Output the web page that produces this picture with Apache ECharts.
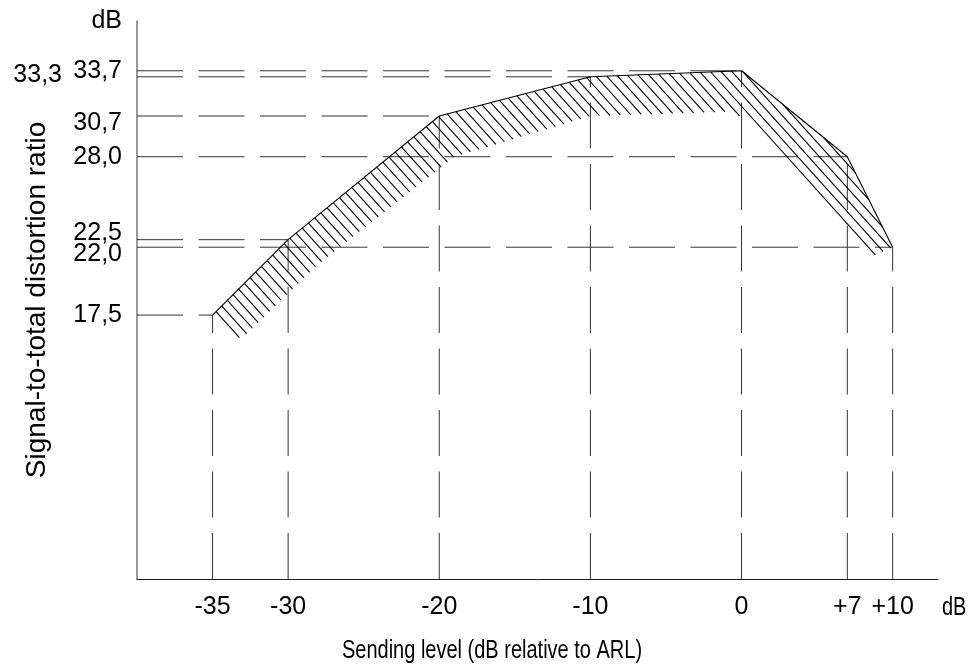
<!DOCTYPE html>
<html><head><meta charset="utf-8">
<script src="https://cdn.jsdelivr.net/npm/echarts@6/dist/echarts.min.js"></script>
<style>html,body{margin:0;padding:0;background:#fff}#c{width:975px;height:666px}</style>
</head><body><div id="c"></div>
<script>
// Limit curve: sending level (dB rel. ARL) -> signal-to-total distortion ratio (dB)
const levels = [-35, -30, -20, -10, 0, 7, 10];
const ratios = [17.5, 22.5, 30.7, 33.3, 33.7, 28.0, 22.0];
// Lower edge of the hatched band, right to left
const hatchLowerX = [8.4, -0.4, -10, -19, -28.1, -33.1];
const hatchLowerY = [21.3, 31.0, 30.7, 28.0, 20.8, 15.9];
// Tick values and labels
const xTickValues = [-35, -30, -20, -10, 0, 7, 10];
const xTickLabels = ['-35', '-30', '-20', '-10', '0', '+7', '+10'];
const yTickValues = [33.7, 33.3, 30.7, 28.0, 22.5, 22.0, 17.5];
const yTickLabels = ['33,7', '33,3', '30,7', '28,0', '22,5', '22,0', '17,5'];
const xTitle = 'Sending level (dB relative to ARL)';
const yTitle = 'Signal-to-total distortion ratio';
const unitLabel = 'dB';

const X_MIN = -40, X_MAX = 13, Y_MIN = 0, Y_MAX = 37;
const FONT = 'Liberation Sans, Arial, sans-serif';
const TICK_FS = 25;
const guideDash = [46, 15.5];
const hatchAngle = 48 * Math.PI / 180;
const hatchGap = 8.0;
// per-label style key (rich) for y labels
const yLabelStyle = ['n', 'farLeft', 'down', 'n', 'up', 'down', 'n'];

const chart = echarts.init(document.getElementById('c'), null, {renderer: 'canvas'});

function hatchRender(params, api) {
  const poly = [];
  levels.forEach((x, i) => poly.push(api.coord([x, ratios[i]])));
  hatchLowerX.forEach((x, i) => poly.push(api.coord([x, hatchLowerY[i]])));
  const u = [Math.cos(hatchAngle), Math.sin(hatchAngle)];
  const n = [-Math.sin(hatchAngle), Math.cos(hatchAngle)];
  const dot = (a, b) => a[0] * b[0] + a[1] * b[1];
  let cMin = Infinity, cMax = -Infinity;
  poly.forEach(p => { const c = dot(n, p); cMin = Math.min(cMin, c); cMax = Math.max(cMax, c); });
  const children = [];
  const start = Math.ceil(cMin / hatchGap) * hatchGap;
  for (let c = start; c <= cMax; c += hatchGap) {
    const ss = [];
    for (let k = 0; k < poly.length; k++) {
      const a = poly[k], b = poly[(k + 1) % poly.length];
      const fa = dot(n, a) - c, fb = dot(n, b) - c;
      if ((fa < 0) !== (fb < 0)) {
        const t = fa / (fa - fb);
        const p = [a[0] + t * (b[0] - a[0]), a[1] + t * (b[1] - a[1])];
        ss.push(dot(u, p));
      }
    }
    ss.sort((a, b) => a - b);
    for (let j = 0; j + 1 < ss.length; j += 2) {
      const p1 = [n[0] * c + u[0] * ss[j], n[1] * c + u[1] * ss[j]];
      const p2 = [n[0] * c + u[0] * ss[j + 1], n[1] * c + u[1] * ss[j + 1]];
      children.push({type: 'line', shape: {x1: p1[0], y1: p1[1], x2: p2[0], y2: p2[1]},
        style: {stroke: '#000', lineWidth: 1.1}});
    }
  }
  return {type: 'group', children};
}

function guideRender(params, api) {
  const x = api.value(0), y = api.value(1);
  const p = api.coord([x, y]);
  const pl = api.coord([X_MIN, y]);
  const pb = api.coord([x, Y_MIN]);
  const st = {stroke: '#333', lineWidth: 1, lineDash: guideDash};
  return {type: 'group', children: [
    {type: 'line', shape: {x1: pl[0], y1: pl[1], x2: p[0], y2: p[1]}, style: st},
    {type: 'line', shape: {x1: pb[0], y1: pb[1], x2: p[0], y2: p[1]}, style: st}
  ]};
}

const option = {
  animation: false,
  backgroundColor: '#fff',
  grid: {left: 137, right: 37, top: 21, bottom: 87, containLabel: false},
  // x-axis title and unit drawn as condensed text (narrow face as in the original)
  graphic: [{
    type: 'text', x: 492, y: 651, scaleX: 0.8, silent: true,
    style: {text: xTitle, fontFamily: FONT, fontSize: 25, fill: '#000', textAlign: 'center', textVerticalAlign: 'middle'}
  }, {
    type: 'text', x: 942, y: 608, scaleX: 0.8, silent: true,
    style: {text: unitLabel, fontFamily: FONT, fontSize: 25, fill: '#000', textAlign: 'left', textVerticalAlign: 'middle'}
  }],
  xAxis: [{
    type: 'value', min: X_MIN, max: X_MAX,
    axisLine: {show: true, onZero: false, lineStyle: {color: '#222', width: 1}},
    axisTick: {show: false},
    splitLine: {show: false},
    axisLabel: {
      customValues: xTickValues, margin: 16,
      fontFamily: FONT, fontSize: TICK_FS, color: '#000',
      formatter: v => { const i = xTickValues.findIndex(t => Math.abs(t - v) < 1e-6); return i >= 0 ? xTickLabels[i] : ''; }
    }
  }],
  yAxis: [{
    type: 'value', min: Y_MIN, max: Y_MAX,
    name: unitLabel, nameLocation: 'end', nameGap: 0,
    nameTextStyle: {fontFamily: FONT, fontSize: TICK_FS, color: '#000', align: 'right', verticalAlign: 'middle', padding: [0, 15, 0, 0]},
    axisLine: {show: true, onZero: false, lineStyle: {color: '#777', width: 1.5}},
    axisTick: {show: false},
    splitLine: {show: false},
    axisLabel: {
      customValues: yTickValues, margin: 15,
      fontFamily: FONT, fontSize: TICK_FS, color: '#000',
      formatter: v => {
        const i = yTickValues.findIndex(t => Math.abs(t - v) < 1e-6);
        if (i < 0) return '';
        return '{' + yLabelStyle[i] + '|' + yTickLabels[i] + '}';
      },
      rich: {
        n: {fontFamily: FONT, fontSize: TICK_FS, color: '#000'},
        farLeft: {fontFamily: FONT, fontSize: TICK_FS, color: '#000', padding: [0, 60, 4, 0]},
        down: {fontFamily: FONT, fontSize: TICK_FS, color: '#000', padding: [14, 0, 0, 0]},
        up: {fontFamily: FONT, fontSize: TICK_FS, color: '#000', padding: [0, 0, 14, 0]}
      }
    }
  }, {
    type: 'value', min: Y_MIN, max: Y_MAX, position: 'left',
    name: yTitle, nameLocation: 'middle', nameGap: 86, nameRotate: 90,
    nameTextStyle: {fontFamily: FONT, fontSize: 28, color: '#000'},
    axisLine: {show: false, onZero: false}, axisTick: {show: false}, axisLabel: {show: false}, splitLine: {show: false}
  }],
  series: [
    {type: 'custom', name: 'guides', silent: true, z: 1,
      data: levels.map((x, i) => [x, ratios[i]]), renderItem: guideRender},
    {type: 'custom', name: 'hatch', silent: true, z: 2,
      data: [[levels[0], ratios[0]]], renderItem: hatchRender},
    {type: 'line', name: 'limit', silent: true, z: 3,
      data: levels.map((x, i) => [x, ratios[i]]),
      showSymbol: false, symbol: 'none',
      lineStyle: {color: '#000', width: 1.1}}
  ]
};
chart.setOption(option);
</script>
</body></html>
